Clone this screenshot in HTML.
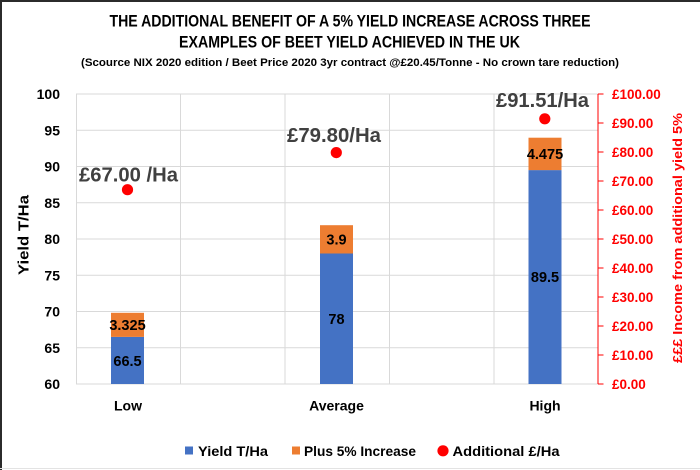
<!DOCTYPE html>
<html>
<head>
<meta charset="utf-8">
<style>
  html, body { margin: 0; padding: 0; background: #ffffff; }
  svg { display: block; }
  text { font-family: "Liberation Sans", "DejaVu Sans", sans-serif; }
</style>
</head>
<body>
<svg width="700" height="470" viewBox="0 0 700 470" xmlns="http://www.w3.org/2000/svg">
  <rect x="0" y="0" width="700" height="470" fill="#ffffff"/>
  <!-- frame -->
  <rect x="0" y="0" width="700" height="2" fill="#2b2b2b"/>
  <rect x="0" y="0" width="2" height="470" fill="#2b2b2b"/>
  <line x1="0" y1="468.5" x2="700" y2="468.5" stroke="#e3e3e3" stroke-width="1"/>

  <!-- titles -->
  <text x="350" y="26.7" text-anchor="middle" font-size="16.3" font-weight="bold" fill="#000" textLength="481" lengthAdjust="spacingAndGlyphs">THE ADDITIONAL BENEFIT OF A 5% YIELD INCREASE ACROSS THREE</text>
  <text x="349.5" y="47.3" text-anchor="middle" font-size="16.3" font-weight="bold" fill="#000" textLength="341" lengthAdjust="spacingAndGlyphs">EXAMPLES OF BEET YIELD ACHIEVED IN THE UK</text>
  <text x="350" y="65.8" text-anchor="middle" font-size="10.6" font-weight="bold" fill="#000" textLength="538" lengthAdjust="spacingAndGlyphs">(Scource NIX 2020 edition / Beet Price 2020 3yr contract  @£20.45/Tonne - No crown tare reduction)</text>

  <!-- horizontal gridlines -->
  <g stroke="#d9d9d9" stroke-width="1">
    <line x1="76" y1="94" x2="598" y2="94"/>
    <line x1="76" y1="130.25" x2="598" y2="130.25"/>
    <line x1="76" y1="166.5" x2="598" y2="166.5"/>
    <line x1="76" y1="202.75" x2="598" y2="202.75"/>
    <line x1="76" y1="239" x2="598" y2="239"/>
    <line x1="76" y1="275.25" x2="598" y2="275.25"/>
    <line x1="76" y1="311.5" x2="598" y2="311.5"/>
    <line x1="76" y1="347.75" x2="598" y2="347.75"/>
    <line x1="76" y1="384" x2="598" y2="384"/>
    <!-- vertical gridlines -->
    <line x1="76.5" y1="94" x2="76.5" y2="384"/>
    <line x1="180.5" y1="94" x2="180.5" y2="384"/>
    <line x1="285" y1="94" x2="285" y2="384"/>
    <line x1="389.5" y1="94" x2="389.5" y2="384"/>
    <line x1="494" y1="94" x2="494" y2="384"/>
  </g>

  <!-- bars -->
  <rect x="111" y="336.9" width="33" height="47.1" fill="#4472C4"/>
  <rect x="111" y="312.8" width="33" height="24.1" fill="#ED7D31"/>
  <rect x="320" y="253.5" width="33" height="130.5" fill="#4472C4"/>
  <rect x="320" y="225.2" width="33" height="28.3" fill="#ED7D31"/>
  <rect x="528.5" y="170.1" width="33" height="213.9" fill="#4472C4"/>
  <rect x="528.5" y="137.7" width="33" height="32.4" fill="#ED7D31"/>

  <!-- bar labels -->
  <g font-size="14.5" font-weight="bold" fill="#000" text-anchor="middle">
    <text x="127.5" y="366">66.5</text>
    <text x="127.5" y="330">3.325</text>
    <text x="336.5" y="324">78</text>
    <text x="336.5" y="244.5">3.9</text>
    <text x="545" y="282">89.5</text>
    <text x="545" y="159">4.475</text>
  </g>

  <!-- right axis -->
  <g stroke="#FF0000" stroke-width="1">
    <line x1="598" y1="94" x2="598" y2="384"/>
    <line x1="598" y1="94" x2="603.5" y2="94"/>
    <line x1="598" y1="123" x2="603.5" y2="123"/>
    <line x1="598" y1="152" x2="603.5" y2="152"/>
    <line x1="598" y1="181" x2="603.5" y2="181"/>
    <line x1="598" y1="210" x2="603.5" y2="210"/>
    <line x1="598" y1="239" x2="603.5" y2="239"/>
    <line x1="598" y1="268" x2="603.5" y2="268"/>
    <line x1="598" y1="297" x2="603.5" y2="297"/>
    <line x1="598" y1="326" x2="603.5" y2="326"/>
    <line x1="598" y1="355" x2="603.5" y2="355"/>
    <line x1="598" y1="384" x2="603.5" y2="384"/>
  </g>
  <g font-size="13.5" font-weight="bold" fill="#FF0000">
    <text x="612" y="98.8">£100.00</text>
    <text x="612" y="127.8">£90.00</text>
    <text x="612" y="156.8">£80.00</text>
    <text x="612" y="185.8">£70.00</text>
    <text x="612" y="214.8">£60.00</text>
    <text x="612" y="243.8">£50.00</text>
    <text x="612" y="272.8">£40.00</text>
    <text x="612" y="301.8">£30.00</text>
    <text x="612" y="330.8">£20.00</text>
    <text x="612" y="359.8">£10.00</text>
    <text x="612" y="388.8">£0.00</text>
  </g>
  <text transform="translate(682,238) rotate(-90)" text-anchor="middle" font-size="13" font-weight="bold" fill="#FF0000" textLength="250" lengthAdjust="spacingAndGlyphs">£££ Income from additional yield 5%</text>

  <!-- left axis labels -->
  <g font-size="14" font-weight="bold" fill="#000" text-anchor="end">
    <text x="60" y="99">100</text>
    <text x="60" y="135.25">95</text>
    <text x="60" y="171.5">90</text>
    <text x="60" y="207.75">85</text>
    <text x="60" y="244">80</text>
    <text x="60" y="280.25">75</text>
    <text x="60" y="316.5">70</text>
    <text x="60" y="352.75">65</text>
    <text x="60" y="389">60</text>
  </g>
  <text transform="translate(28.5,235) rotate(-90)" text-anchor="middle" font-size="14.5" font-weight="bold" fill="#000" textLength="80" lengthAdjust="spacingAndGlyphs">Yield T/Ha</text>

  <!-- category labels -->
  <g font-size="14" font-weight="bold" fill="#000" text-anchor="middle">
    <text x="128" y="410.3">Low</text>
    <text x="336.5" y="410.3">Average</text>
    <text x="545" y="410.3">High</text>
  </g>

  <!-- dots -->
  <circle cx="127.5" cy="189.7" r="5.6" fill="#FF0000"/>
  <circle cx="336.3" cy="152.6" r="5.6" fill="#FF0000"/>
  <circle cx="544.8" cy="118.8" r="5.6" fill="#FF0000"/>

  <!-- dot labels -->
  <g font-size="20" font-weight="bold" fill="#404040">
    <text x="79" y="181.5" textLength="99" lengthAdjust="spacingAndGlyphs">£67.00 /Ha</text>
    <text x="287" y="141.8" textLength="94" lengthAdjust="spacingAndGlyphs">£79.80/Ha</text>
    <text x="496" y="106.8" textLength="93" lengthAdjust="spacingAndGlyphs">£91.51/Ha</text>
  </g>

  <!-- legend -->
  <rect x="185" y="446.5" width="8" height="8" fill="#4472C4"/>
  <rect x="292" y="446.5" width="8" height="8" fill="#ED7D31"/>
  <circle cx="443" cy="450.8" r="5.6" fill="#FF0000"/>
  <g font-size="14" font-weight="bold" fill="#000">
    <text x="198" y="456" textLength="70" lengthAdjust="spacingAndGlyphs">Yield T/Ha</text>
    <text x="304" y="456" textLength="112" lengthAdjust="spacingAndGlyphs">Plus 5% Increase</text>
    <text x="452.5" y="456" textLength="107" lengthAdjust="spacingAndGlyphs">Additional £/Ha</text>
  </g>
</svg>
</body>
</html>
